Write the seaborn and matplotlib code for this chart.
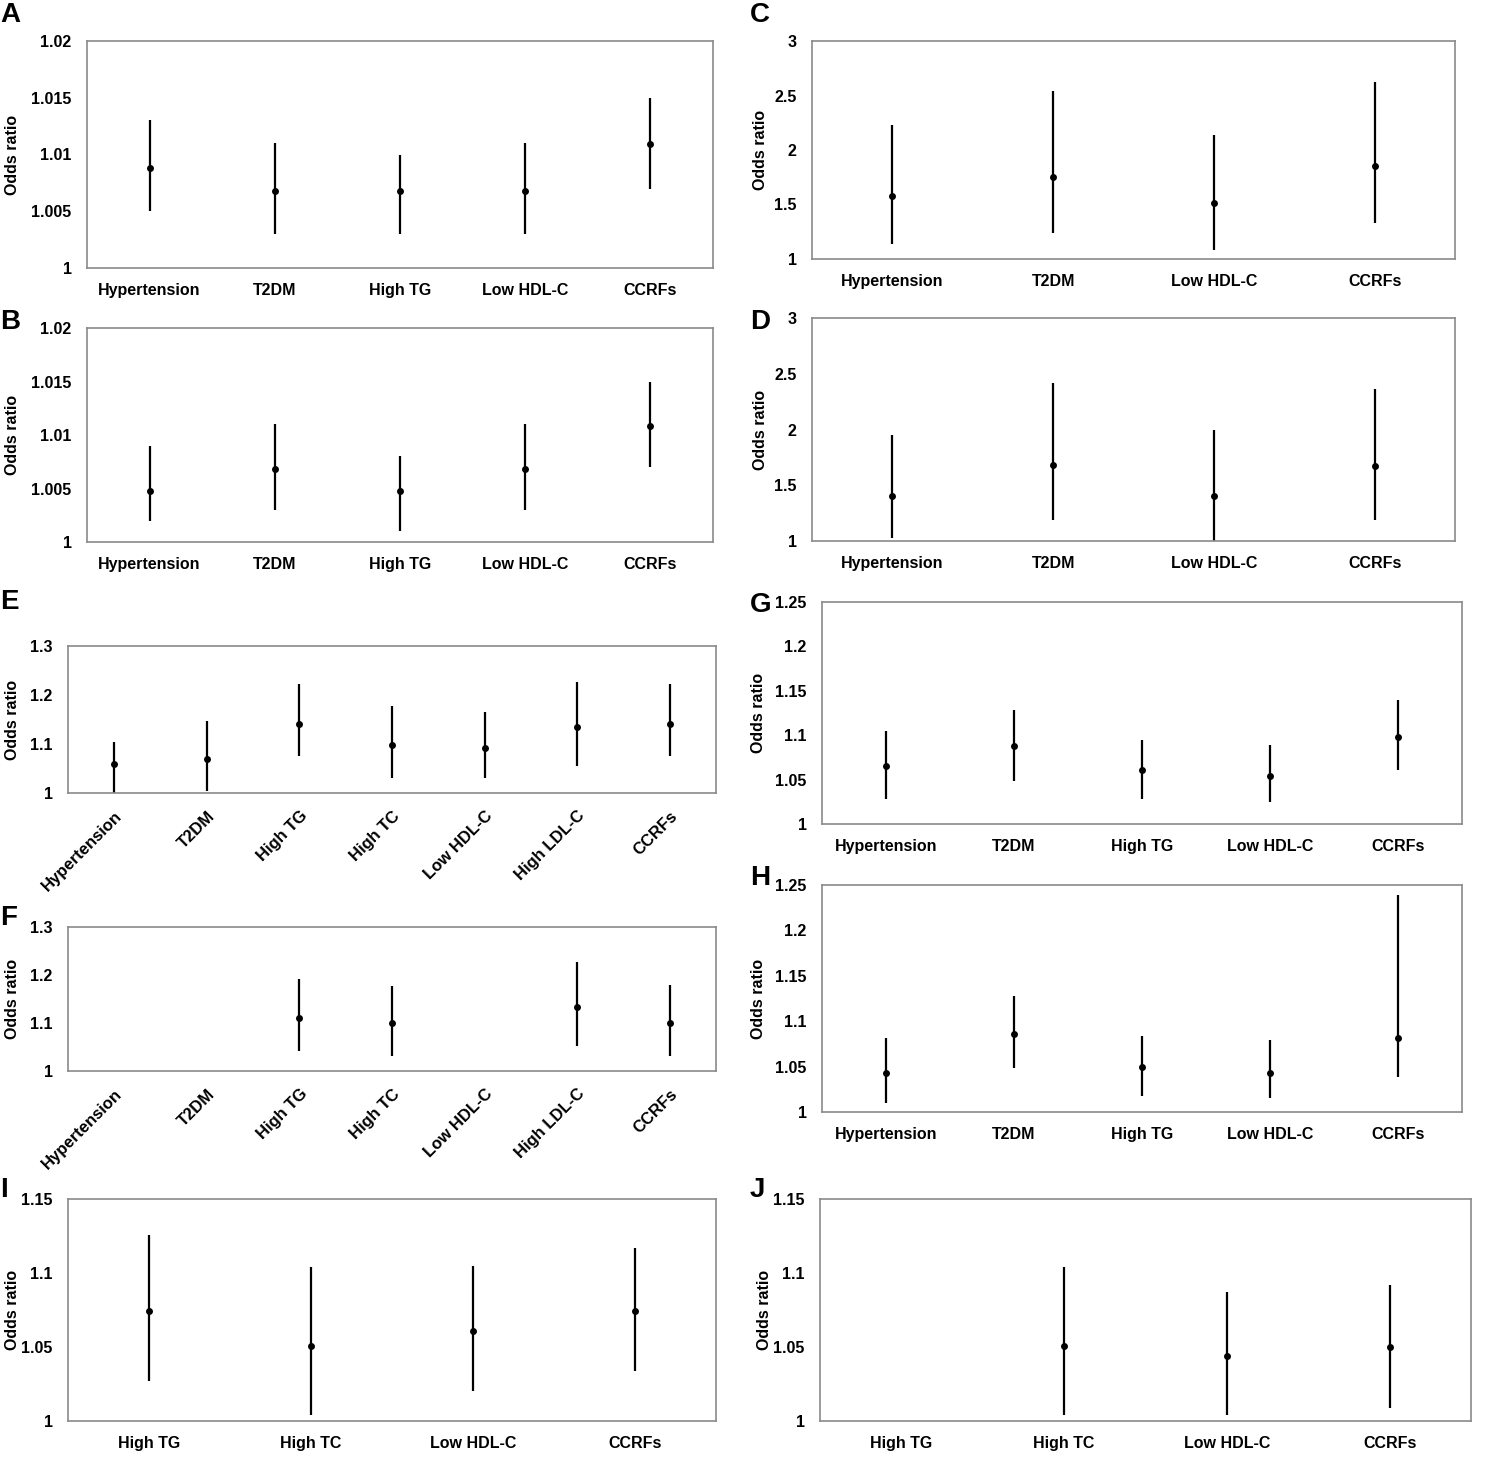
import numpy as np
import pandas as pd
import seaborn as sns
from matplotlib import pyplot as plt

nan = np.nan

# categories per panel group
cats_5 = ["Hypertension", "T2DM", "High TG", "Low HDL-C", "CCRFs"]
cats_4 = ["Hypertension", "T2DM", "Low HDL-C", "CCRFs"]
cats_7 = ["Hypertension", "T2DM", "High TG", "High TC", "Low HDL-C", "High LDL-C", "CCRFs"]
cats_lip = ["High TG", "High TC", "Low HDL-C", "CCRFs"]

# odds ratios with 95% CI
or_a = [1.0088, 1.0068, 1.0068, 1.0068, 1.0109]
lo_a = [1.005, 1.003, 1.003, 1.003, 1.007]
hi_a = [1.013, 1.011, 1.010, 1.011, 1.015]

or_b = [1.0048, 1.0068, 1.0048, 1.0068, 1.0108]
lo_b = [1.002, 1.003, 1.001, 1.003, 1.007]
hi_b = [1.009, 1.011, 1.008, 1.011, 1.015]

or_c = [1.58, 1.75, 1.51, 1.85]
lo_c = [1.135, 1.24, 1.08, 1.33]
hi_c = [2.23, 2.545, 2.14, 2.62]

or_d = [1.40, 1.68, 1.40, 1.67]
lo_d = [1.03, 1.19, 1.00, 1.19]
hi_d = [1.95, 2.42, 2.00, 2.36]

or_e = [1.060, 1.070, 1.141, 1.098, 1.091, 1.134, 1.141]
lo_e = [1.000, 1.004, 1.076, 1.031, 1.030, 1.055, 1.076]
hi_e = [1.105, 1.146, 1.222, 1.177, 1.165, 1.227, 1.222]

or_f = [nan, nan, 1.110, 1.100, nan, 1.134, 1.100]
lo_f = [nan, nan, 1.042, 1.032, nan, 1.053, 1.032]
hi_f = [nan, nan, 1.192, 1.178, nan, 1.227, 1.180]

or_g = [1.065, 1.088, 1.061, 1.054, 1.098]
lo_g = [1.028, 1.048, 1.028, 1.025, 1.061]
hi_g = [1.105, 1.128, 1.095, 1.089, 1.140]

or_h = [1.043, 1.086, 1.050, 1.043, 1.082]
lo_h = [1.010, 1.049, 1.018, 1.015, 1.038]
hi_h = [1.082, 1.128, 1.084, 1.079, 1.239]

or_i = [1.074, 1.051, 1.061, 1.074]
lo_i = [1.027, 1.004, 1.020, 1.034]
hi_i = [1.126, 1.104, 1.105, 1.117]

or_j = [nan, 1.051, 1.044, 1.050]
lo_j = [nan, 1.004, 1.004, 1.009]
hi_j = [nan, 1.104, 1.087, 1.092]

ticks_small = [1, 1.005, 1.01, 1.015, 1.02]
ticks_big = [1, 1.5, 2, 2.5, 3]
ticks_ef = [1, 1.1, 1.2, 1.3]
ticks_gh = [1, 1.05, 1.1, 1.15, 1.2, 1.25]
ticks_ij = [1, 1.05, 1.1, 1.15]

sns.set_style("white")
plt.rcParams['font.family'] = ['Liberation Sans', 'DejaVu Sans']
plt.rcParams['text.color'] = 'black'
plt.rcParams['axes.labelcolor'] = 'black'
plt.rcParams['xtick.color'] = 'black'
plt.rcParams['ytick.color'] = 'black'

W, H = 1490, 1462
fig = plt.figure(figsize=(W / 100, H / 100), dpi=100)


def add_panel(box, letter, letter_xy, label_x, cats, est, lo, hi, ticks, rotate=False):
    x0, x1, y0, y1 = box
    ax = fig.add_axes([x0 / W, 1 - y1 / H, (x1 - x0) / W, (y1 - y0) / H])
    df = pd.DataFrame({"factor": cats, "OR": est})
    sns.stripplot(data=df, x="factor", y="OR", order=cats, jitter=False,
                  color="black", size=5, ax=ax, zorder=3)
    ax.vlines(np.arange(len(cats)), lo, hi, color="black", lw=1.6, zorder=2)
    ax.set_xlim(-0.5, len(cats) - 0.5)
    ax.set_ylim(ticks[0], ticks[-1])
    ax.set_yticks(ticks)
    ax.set_yticklabels([f"{t:g}" for t in ticks], fontweight="bold", fontsize=11.5)
    ax.set_xticks(np.arange(len(cats)))
    if rotate:
        ax.set_xticklabels(cats, rotation=45, ha="right", rotation_mode="anchor",
                           fontweight="bold", fontsize=12)
    else:
        ax.set_xticklabels(cats, fontweight="bold", fontsize=11.5)
    ax.tick_params(axis="both", length=0, pad=11)
    ax.set_xlabel("")
    ax.set_ylabel("Odds ratio", fontweight="bold", fontsize=11.5)
    ax.yaxis.set_label_coords((label_x - x0) / (x1 - x0), 0.5)
    for s in ax.spines.values():
        s.set_color("#8a8a8a")
        s.set_linewidth(1.2)
    fig.text(letter_xy[0] / W, 1 - letter_xy[1] / H, letter, fontsize=20,
             fontweight="bold", ha="left", va="center")
    return ax


add_panel((87, 713, 41, 268), "A", (0, 15), 20, cats_5, or_a, lo_a, hi_a, ticks_small)
add_panel((87, 713, 328, 542), "B", (0, 322), 20, cats_5, or_b, lo_b, hi_b, ticks_small)
add_panel((812, 1455, 41, 259), "C", (750, 15), 768, cats_4, or_c, lo_c, hi_c, ticks_big)
add_panel((812, 1455, 318, 541), "D", (750, 322), 768, cats_4, or_d, lo_d, hi_d, ticks_big)
add_panel((68, 716, 646, 793), "E", (0, 602), 20, cats_7, or_e, lo_e, hi_e, ticks_ef, rotate=True)
add_panel((68, 716, 927, 1071), "F", (0, 918), 20, cats_7, or_f, lo_f, hi_f, ticks_ef, rotate=True)
add_panel((822, 1462, 602, 824), "G", (750, 605), 766, cats_5, or_g, lo_g, hi_g, ticks_gh)
add_panel((822, 1462, 885, 1112), "H", (750, 878), 766, cats_5, or_h, lo_h, hi_h, ticks_gh)
add_panel((68, 716, 1199, 1421), "I", (0, 1190), 20, cats_lip, or_i, lo_i, hi_i, ticks_ij)
add_panel((820, 1471, 1199, 1421), "J", (750, 1190), 772, cats_lip, or_j, lo_j, hi_j, ticks_ij)

plt.savefig("out.png", dpi=100)
